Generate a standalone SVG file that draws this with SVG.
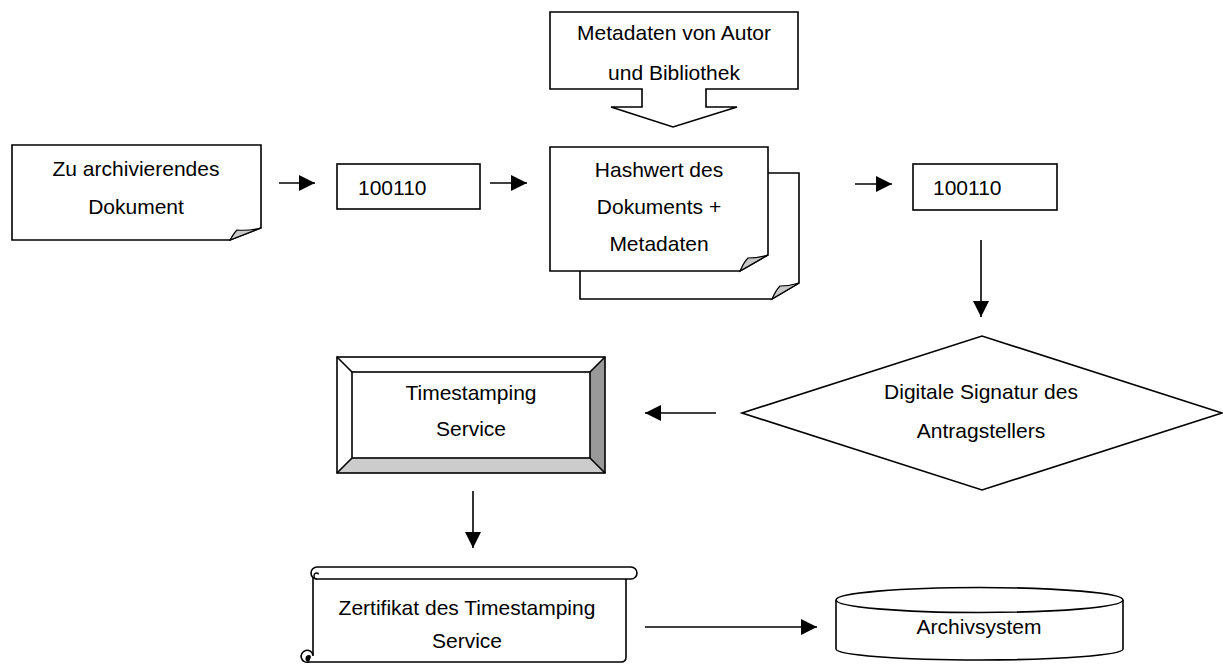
<svg xmlns="http://www.w3.org/2000/svg" width="1223" height="664" viewBox="0 0 1223 664">
<style>
.s{fill:#fff;stroke:#000;stroke-width:1.6;stroke-linejoin:miter}
.f{fill:#c8c8c8;stroke:#000;stroke-width:1.2}
.t{font-family:"Liberation Sans",Arial,sans-serif;font-size:21px;fill:#000;text-anchor:middle}
.l{text-anchor:start}
.c{fill:none;stroke:#000;stroke-width:1.6}
</style>
<defs>
<marker id="ah" markerWidth="16" markerHeight="16" refX="16" refY="8" orient="auto" markerUnits="userSpaceOnUse">
<path d="M0,0 L16,8 L0,16 z" fill="#000"/>
</marker>
</defs>
<rect width="1223" height="664" fill="#fff"/>

<g id="doc1">
<path class="s" d="M12,145 H261 V228 L230,240 H12 Z"/>
<path class="f" d="M230,240 Q234,233 237,230 Q249,231 261,228 Z"/>
<text class="t" x="136" y="176">Zu archivierendes</text>
<text class="t" x="136" y="214">Dokument</text>
</g>

<g id="bits1">
<rect class="s" x="337" y="164" width="143" height="45"/>
<text class="t l" x="358" y="195">100110</text>
</g>

<g id="meta">
<path class="s" d="M550,12 H798 V89 H706 V107 H737 L673,127 L611,107 H642 V89 H550 Z"/>
<text class="t" x="674" y="40">Metadaten von Autor</text>
<text class="t" x="674" y="80">und Bibliothek</text>
</g>

<g id="hash">
<path class="s" d="M580,173 H799 V283 L772,299 H580 Z"/>
<path class="f" d="M772,299 Q776,290 780,286 Q790,286 799,283 Z"/>
<path class="s" d="M550,147 H768 V255 L740,271 H550 Z"/>
<path class="f" d="M740,271 Q744,262 748,258 Q758,258 768,255 Z"/>
<text class="t" x="659" y="177">Hashwert des</text>
<text class="t" x="659" y="214">Dokuments +</text>
<text class="t" x="659" y="251">Metadaten</text>
</g>

<g id="bits2">
<rect class="s" x="913" y="164" width="144" height="46"/>
<text class="t l" x="933" y="195">100110</text>
</g>

<g id="sig">
<polygon class="s" points="742,413 982,336 1222,413 982,490"/>
<text class="t" x="981" y="399">Digitale Signatur des</text>
<text class="t" x="981" y="438">Antragstellers</text>
</g>

<g id="tss">
<rect x="337" y="357" width="268" height="116" fill="#fff"/>
<polygon points="590,372 605,357 605,473 590,458" fill="#999"/>
<polygon points="352,458 590,458 605,473 337,473" fill="#ccc"/>
<rect class="s" x="337" y="357" width="268" height="116" fill="none" style="fill:none"/>
<rect class="s" x="352" y="372" width="238" height="86" style="fill:none"/>
<path class="c" d="M337,357 L352,372 M605,357 L590,372 M337,473 L352,458 M605,473 L590,458"/>
<text class="t" x="471" y="400">Timestamping</text>
<text class="t" x="471" y="436">Service</text>
</g>

<g id="cert">
<path d="M313,573 H626 V657 Q626,662 621,662 H313 Z" fill="#fff"/>
<path class="c" d="M313,573 V656"/>
<path class="c" d="M626,579 V657 Q626,662 621,662 H309"/>
<path class="s" d="M317,567 H631 A6,6 0 0 1 631,579 H317 A6,6 0 0 1 317,567 Z"/>
<path class="c" d="M317,579 A3,3 0 0 1 317,573 A1.5,1.5 0 0 1 318.5,574.5" style="stroke-width:1.3"/>
<path class="c" d="M313,655 A6,6 0 1 0 309,662" />
<path d="M309,662 A3.5,3.5 0 0 1 309,655 A2,2 0 0 1 311,657 Z" fill="#000"/>
<text class="t" x="467" y="615">Zertifikat des Timestamping</text>
<text class="t" x="467" y="648">Service</text>
</g>

<g id="archiv">
<path class="s" d="M836,600 V649 A143.5,11 0 0 0 1123,649 V600"/>
<ellipse class="s" cx="979.5" cy="600" rx="143.5" ry="12.5"/>
<text class="t" x="979" y="634">Archivsystem</text>
</g>

<g id="connectors">
<line class="c" x1="279" y1="183" x2="315" y2="183" marker-end="url(#ah)"/>
<line class="c" x1="490" y1="183" x2="527" y2="183" marker-end="url(#ah)"/>
<line class="c" x1="855" y1="184" x2="892" y2="184" marker-end="url(#ah)"/>
<line class="c" x1="981" y1="240" x2="981" y2="317" marker-end="url(#ah)"/>
<line class="c" x1="716" y1="413" x2="645" y2="413" marker-end="url(#ah)"/>
<line class="c" x1="473" y1="491" x2="473" y2="548" marker-end="url(#ah)"/>
<line class="c" x1="645" y1="627" x2="817" y2="627" marker-end="url(#ah)"/>
</g>
</svg>
